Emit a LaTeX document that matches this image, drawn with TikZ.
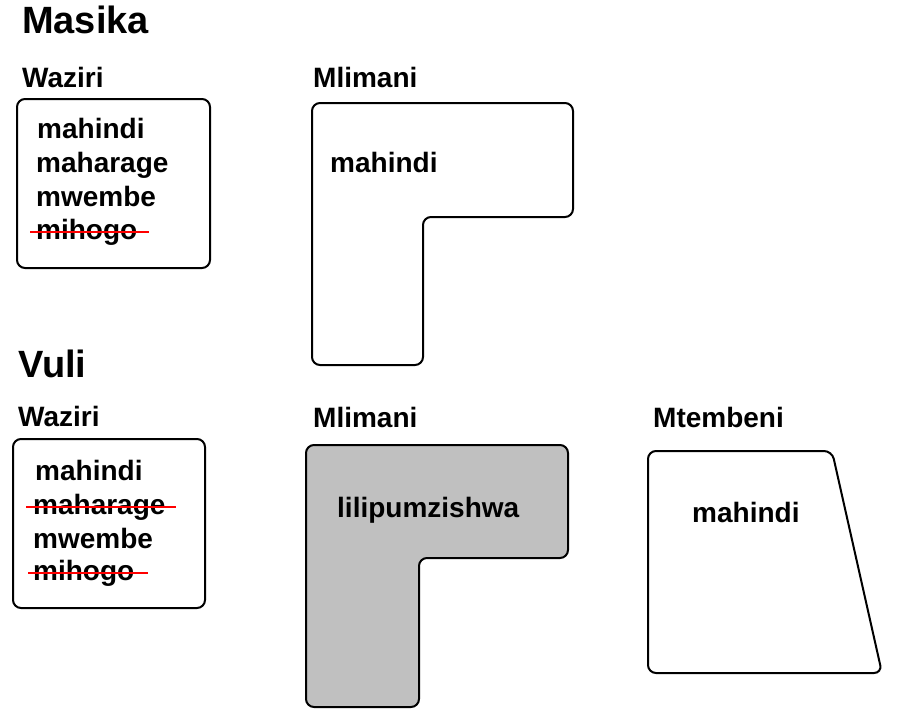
\documentclass[tikz,border=0pt]{standalone}
\usepackage{fontspec}
\setmainfont{Liberation Sans}
\begin{document}
\begin{tikzpicture}[x=1pt,y=-1pt,
  title/.style={anchor=base west,inner sep=0pt,font=\fontsize{38}{45}\selectfont\bfseries},
  lbl/.style={anchor=base west,inner sep=0pt,font=\fontsize{28}{33}\selectfont\bfseries},
  field/.style={draw=black,line width=2pt,rounded corners=8pt},
  strike/.style={draw=red,line width=1.8pt}]
\useasboundingbox (0,0) rectangle (900,713);
\fill[white] (0,0) rectangle (900,713);

% ---------- Masika ----------
\node[title] (tMasika) at (22,33) {Masika};
\node[lbl] (lW1) at (22,87) {Waziri};
\draw[field] (17,99) rectangle (210,268);
\node[lbl] (a1) at (37,138) {mahindi};
\node[lbl] (a2) at (36,172) {maharage};
\node[lbl] (a3) at (36,206) {mwembe};
\node[lbl] (a4) at (36,239) {mihogo};
\draw[strike] ([xshift=-6pt,yshift=7pt]a4.base west) -- ([xshift=12pt,yshift=7pt]a4.base east);

\node[lbl] (lM1) at (313,87) {Mlimani};
\draw[field] (312,103) -- (573,103) -- (573,217) -- (423,217) -- (423,365) -- (312,365) -- cycle;
\node[lbl] (m1) at (330,172) {mahindi};

% ---------- Vuli ----------
\node[title] (tVuli) at (18,377) {Vuli};
\node[lbl] (lW2) at (18,426) {Waziri};
\draw[field] (13,439) rectangle (205,608);
\node[lbl] (b1) at (35,480) {mahindi};
\node[lbl] (b2) at (33,514) {maharage};
\node[lbl] (b3) at (33,548) {mwembe};
\node[lbl] (b4) at (33,580) {mihogo};
\draw[strike] ([xshift=-7pt,yshift=7pt]b2.base west) -- ([xshift=10pt,yshift=7pt]b2.base east);
\draw[strike] ([xshift=-5pt,yshift=7pt]b4.base west) -- ([xshift=14pt,yshift=7pt]b4.base east);

\node[lbl] (lM2) at (313,427) {Mlimani};
\draw[field,fill={rgb,255:red,192;green,192;blue,192}] (306,445) -- (568,445) -- (568,558) -- (419,558) -- (419,707) -- (306,707) -- cycle;
\node[lbl] (m2) at (337,517) {lilipumzishwa};

\node[lbl] (lT) at (653,427) {Mtembeni};
\draw[field] (648,451) -- (832,451) -- (882,673) -- (648,673) -- cycle;
\node[lbl] (t1) at (692,522) {mahindi};
\end{tikzpicture}
\end{document}
